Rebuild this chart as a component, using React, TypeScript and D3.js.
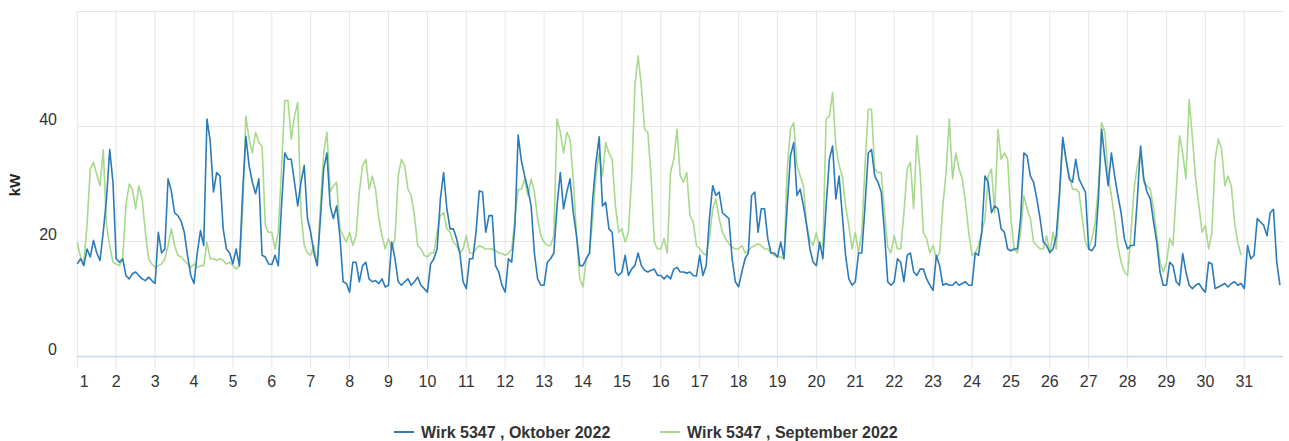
import { useEffect, useRef } from "react"
import * as d3 from "d3"

// one row per day, values every 2 hours (kW)
const oktober: number[][] = [
  [16.1, 17, 15.8, 18.7, 17.3, 20.2, 18, 16.7, 21.6, 27.4, 36, 30.3],
  [17, 16.4, 17, 14.1, 13.5, 14.4, 14.7, 14.1, 13.5, 13.2, 13.8, 13.2],
  [12.7, 21.6, 18, 18.7, 30.9, 28.8, 25, 24.5, 23.6, 21.6, 17.6, 14.1],
  [12.7, 18, 21.9, 19.3, 41.3, 37.5, 28.6, 32, 31.4, 22.2, 18.7, 18],
  [16.1, 18.7, 15.8, 28.6, 38.3, 33.2, 30.3, 28.3, 30.9, 17.6, 17.3, 16.1],
  [16, 17.6, 15.8, 26.2, 35.4, 34.3, 34.3, 30.3, 26.2, 30.3, 33.2, 24],
  [21.6, 18, 15.8, 24, 32.6, 35.4, 26.2, 24, 26.2, 21, 13, 12.7],
  [11.2, 16.4, 16.4, 13, 15.8, 16.4, 13.5, 13, 13.2, 12.7, 13.5, 12.1],
  [12.4, 19.9, 17, 13, 12.4, 13, 13.5, 12.4, 13, 13.8, 12.4, 11.8],
  [11.2, 16.1, 17, 18.7, 27.4, 32, 25.7, 22.2, 22.2, 20.5, 18, 13],
  [11.8, 17, 17, 21.6, 28.8, 28.6, 21.6, 24.5, 24.5, 15.8, 14.7, 12.4],
  [11.2, 17, 16.4, 22.8, 38.5, 34, 31.4, 29.1, 26.2, 18, 13.5, 12.4],
  [12.4, 16.4, 17, 18, 26.2, 32, 25.7, 28.6, 30.9, 25, 21, 15.8],
  [15.8, 17, 18, 27.4, 33.8, 38.2, 26.2, 26.8, 22.2, 21.6, 14.7, 14.1],
  [14.7, 17.6, 14.1, 15.2, 15.8, 18, 15.8, 15, 14.7, 15, 15.2, 14.1],
  [14.1, 13.5, 14.1, 13.5, 15.2, 15.5, 14.7, 14.7, 14.5, 14.7, 14.1, 14],
  [17.6, 14.1, 15.8, 24, 29.7, 28, 28.6, 25, 24.5, 24, 17, 13],
  [12.1, 14.7, 17, 18, 28, 28.6, 21.6, 25.7, 25.7, 20.5, 18, 18],
  [17.3, 19.9, 17, 26.2, 34.9, 37.2, 28, 29.1, 26.2, 22.8, 18.7, 16.4],
  [15.8, 19.9, 17, 26.2, 34.3, 36.6, 27.4, 31.4, 24.5, 17.6, 13.5, 12.4],
  [13, 18, 18, 26.2, 35.4, 36, 31.4, 30.3, 28.6, 21.6, 13, 12.4],
  [13, 17, 16.4, 13, 17.6, 18, 14.7, 14.1, 15.2, 15.2, 13.5, 12.4],
  [11.5, 17.6, 15.8, 12.4, 12.7, 12.4, 12.4, 13, 12.4, 12.7, 13, 12.4],
  [12.4, 18, 17.6, 21.6, 31.4, 30.3, 25, 26.2, 25.7, 22.2, 21.6, 18.7],
  [18.4, 18.7, 18.7, 24, 35.4, 34.9, 31.4, 30.3, 27.4, 24, 19.9, 19.3],
  [18.1, 18.7, 21, 28.6, 38.1, 34.3, 30.9, 30.3, 34.3, 30.9, 29.7, 28.6],
  [18.7, 18.4, 19.3, 27.4, 39.5, 34.3, 29.7, 35.4, 31.4, 28, 25, 20.5],
  [18.7, 19.3, 19.3, 27.4, 36.6, 30.9, 28.6, 27.4, 23.4, 19.9, 14.7, 12.4],
  [12.4, 16.4, 15.8, 13, 12.4, 17.9, 14.7, 12.4, 11.8, 12.4, 12.7, 11.8],
  [11.2, 16.4, 16.1, 11.8, 12.1, 12.4, 12.7, 12.1, 12.7, 13, 12.4, 12.7],
  [11.8, 19.3, 17, 17.6, 24, 23.4, 22.8, 21, 25, 25.6, 16.4, 12.4],
]

const september: number[][] = [
  [19.9, 17.3, 16.1, 22.8, 32.6, 33.8, 31.7, 29.7, 36, 22.8, 19.3, 16.4],
  [16.1, 15.8, 17, 26.2, 30, 29.1, 25.7, 29.7, 27.4, 21.6, 17, 16.1],
  [15.5, 15.8, 16.1, 17, 19.3, 22.2, 19.3, 17.6, 17.3, 16.7, 16.1, 15.5],
  [16.1, 15.5, 15.8, 15.8, 19.9, 17, 17, 16.7, 17, 16.7, 16.1, 16.4],
  [15.8, 15.2, 15.8, 25, 41.8, 37.8, 35.4, 39, 37.2, 36.6, 22.8, 21.6],
  [21.6, 18.7, 21.6, 32.6, 44.5, 44.5, 37.8, 41.8, 44.2, 25, 19.3, 18],
  [17.6, 19.3, 15.8, 26.2, 35.4, 39, 28.6, 29.7, 30.3, 22.2, 21, 19.9],
  [21.6, 19.3, 21, 28.6, 33.2, 34.3, 29.1, 31.4, 29.1, 24, 21, 18.7],
  [20.5, 18.7, 20.5, 31.4, 34.3, 33.2, 29.1, 28, 24.5, 19.3, 18.7, 17.6],
  [17.3, 18, 18, 21.6, 24.5, 25, 22.2, 21.6, 19.9, 19.3, 18, 18.7],
  [21, 18, 17.9, 18.7, 19.3, 19, 18.7, 18.7, 18.7, 18.4, 18, 17.9],
  [17.6, 17.9, 18.7, 24, 29.1, 29.1, 30.9, 28, 30.9, 28.6, 24, 21],
  [19.9, 19.3, 19.3, 21, 41.3, 39, 35.4, 39, 37.8, 30.9, 21, 13.5],
  [12.1, 17, 18, 24, 31.4, 35.4, 31.4, 37.2, 35.4, 34.3, 26.2, 21.6],
  [22.2, 19.9, 21.6, 30.9, 47, 52.3, 47, 39.5, 39, 31.4, 19.9, 18.7],
  [18.7, 20.5, 18, 32, 34.3, 39.5, 31.4, 30.3, 32, 24.5, 23.4, 19.3],
  [18.7, 18, 17.6, 20.5, 25.7, 27.4, 24, 21.6, 20.5, 19.6, 19, 18.7],
  [18.7, 19.3, 18, 18.4, 19, 19.3, 19.6, 19.3, 18.7, 18.7, 18, 17.6],
  [17.3, 17.3, 17, 32.6, 39.5, 40.7, 33.2, 31.4, 29.7, 22.8, 20.2, 19.3],
  [21.6, 18.7, 19.3, 41.3, 41.8, 45.9, 36.6, 33.2, 31.4, 26.2, 22.8, 18.7],
  [21.6, 18, 21.6, 33.2, 43, 43, 32.6, 32, 32, 25, 19, 18],
  [21, 18.7, 18.7, 25, 32.6, 33.8, 25.7, 38.4, 32, 21.6, 20.5, 18],
  [19.3, 17, 18, 26.2, 32, 41.3, 30.9, 35.4, 32.6, 30.9, 26.8, 21.6],
  [17.6, 18, 19.3, 21.6, 24, 31.4, 32.6, 25, 39.5, 34.3, 35.4, 34.3],
  [24, 18.7, 18, 21.6, 28, 25.7, 24, 19.9, 19.3, 18.7, 18.7, 21],
  [18, 21.6, 18.7, 27.4, 37.8, 34.3, 31.4, 29.1, 29.1, 28.6, 24, 19.9],
  [18.7, 20.5, 23.3, 29.7, 40.7, 39, 31.4, 28, 24, 19.3, 16.4, 14.7],
  [14.1, 21, 29.1, 33.2, 35.4, 30.3, 29.7, 29.1, 25.7, 21, 16.4, 14.7],
  [16.4, 20.5, 19.3, 28.6, 38.4, 35.4, 30.9, 44.7, 38, 30.9, 26.2, 21.6],
  [22.8, 18.7, 21.6, 34.3, 37.8, 36.1, 29.7, 31.4, 29.7, 23.3, 19.9, 17.6],
]

const dayLabels = d3.range(1, 32).map(String)
const yTicks = [0, 20, 40]
const seriesNames = ["Wirk 5347 , Oktober 2022", "Wirk 5347 , September 2022"]
const colors = ["#2b7bba", "#a8d98c"]

const W = 1289
const H = 441
const FONT = "'Liberation Sans', Arial, sans-serif"

const toPoints = (rows: number[][]) =>
  rows.flatMap((row, d) => row.map((v, i) => [d * 24 + i * 2, v] as [number, number]))

const App = () => {
  const ref = useRef<SVGSVGElement>(null)

  useEffect(() => {
    document.body.style.margin = "0"
    const svg = d3.select(ref.current)
    svg.selectAll("*").remove()

    const x = d3.scaleLinear().domain([0, 31 * 24]).range([77.3, 1283.2])
    const y = d3.scaleLinear().domain([0, 60]).range([356.5, 11.5])

    const grid = svg.append("g")
    grid
      .selectAll("line.v")
      .data(dayLabels)
      .join("line")
      .attr("x1", (_, i) => x(i * 24))
      .attr("x2", (_, i) => x(i * 24))
      .attr("y1", y(60))
      .attr("y2", y(0) + 12)
      .attr("stroke", "#e6e6e6")
      .attr("stroke-width", 1)

    grid
      .selectAll("line.h")
      .data([20, 40, 60])
      .join("line")
      .attr("x1", x(0))
      .attr("x2", x(31 * 24))
      .attr("y1", (d) => y(d))
      .attr("y2", (d) => y(d))
      .attr("stroke", "#e6e6e6")
      .attr("stroke-width", 1)

    svg
      .append("line")
      .attr("x1", x(0))
      .attr("x2", x(31 * 24))
      .attr("y1", y(0))
      .attr("y2", y(0))
      .attr("stroke", "#ccd6eb")
      .attr("stroke-width", 1.5)

    // y labels
    svg
      .append("g")
      .selectAll("text")
      .data(yTicks)
      .join("text")
      .attr("x", 57)
      .attr("y", (d) => y(d) - 1.5)
      .attr("text-anchor", "end")
      .attr("font-family", FONT)
      .attr("font-size", 16)
      .attr("fill", "#333")
      .text((d) => d)

    svg
      .append("text")
      .attr("transform", "translate(16,185) rotate(-90)")
      .attr("text-anchor", "middle")
      .attr("dominant-baseline", "middle")
      .attr("font-family", FONT)
      .attr("font-size", 15)
      .attr("font-weight", "bold")
      .attr("fill", "#222")
      .text("kW")

    // x labels
    svg
      .append("g")
      .selectAll("text")
      .data(dayLabels)
      .join("text")
      .attr("x", (_, i) => x(i * 24) + (i === 0 ? 7 : 0))
      .attr("y", 387)
      .attr("text-anchor", "middle")
      .attr("font-family", FONT)
      .attr("font-size", 16)
      .attr("fill", "#333")
      .text((d) => d)

    const line = d3
      .line<[number, number]>()
      .x((d) => x(d[0]))
      .y((d) => y(d[1]))

    const data = [toPoints(oktober), toPoints(september)]
    // september underneath? draw green first then blue... original shows blue mostly on top
    svg
      .append("path")
      .attr("d", line(data[1]))
      .attr("fill", "none")
      .attr("stroke", colors[1])
      .attr("stroke-width", 1.6)
      .attr("stroke-linejoin", "round")
    svg
      .append("path")
      .attr("d", line(data[0]))
      .attr("fill", "none")
      .attr("stroke", colors[0])
      .attr("stroke-width", 1.6)
      .attr("stroke-linejoin", "round")

    // legend
    const legendX = [394, 660]
    const legend = svg
      .append("g")
      .selectAll("g")
      .data(seriesNames)
      .join("g")
      .attr("transform", (_, i) => `translate(${legendX[i]},432)`)
    legend
      .append("line")
      .attr("x1", 0)
      .attr("x2", 20)
      .attr("stroke", (_, i) => colors[i])
      .attr("stroke-width", 2)
    legend
      .append("text")
      .attr("x", 27)
      .attr("y", 5.5)
      .attr("font-family", FONT)
      .attr("font-size", 16)
      .attr("font-weight", "bold")
      .attr("fill", "#333")
      .text((d) => d)
  }, [])

  return (
    <svg
      ref={ref}
      width={W}
      height={H}
      style={{ position: "absolute", left: 0, top: 0, background: "#fff" }}
    />
  )
}

export default App
